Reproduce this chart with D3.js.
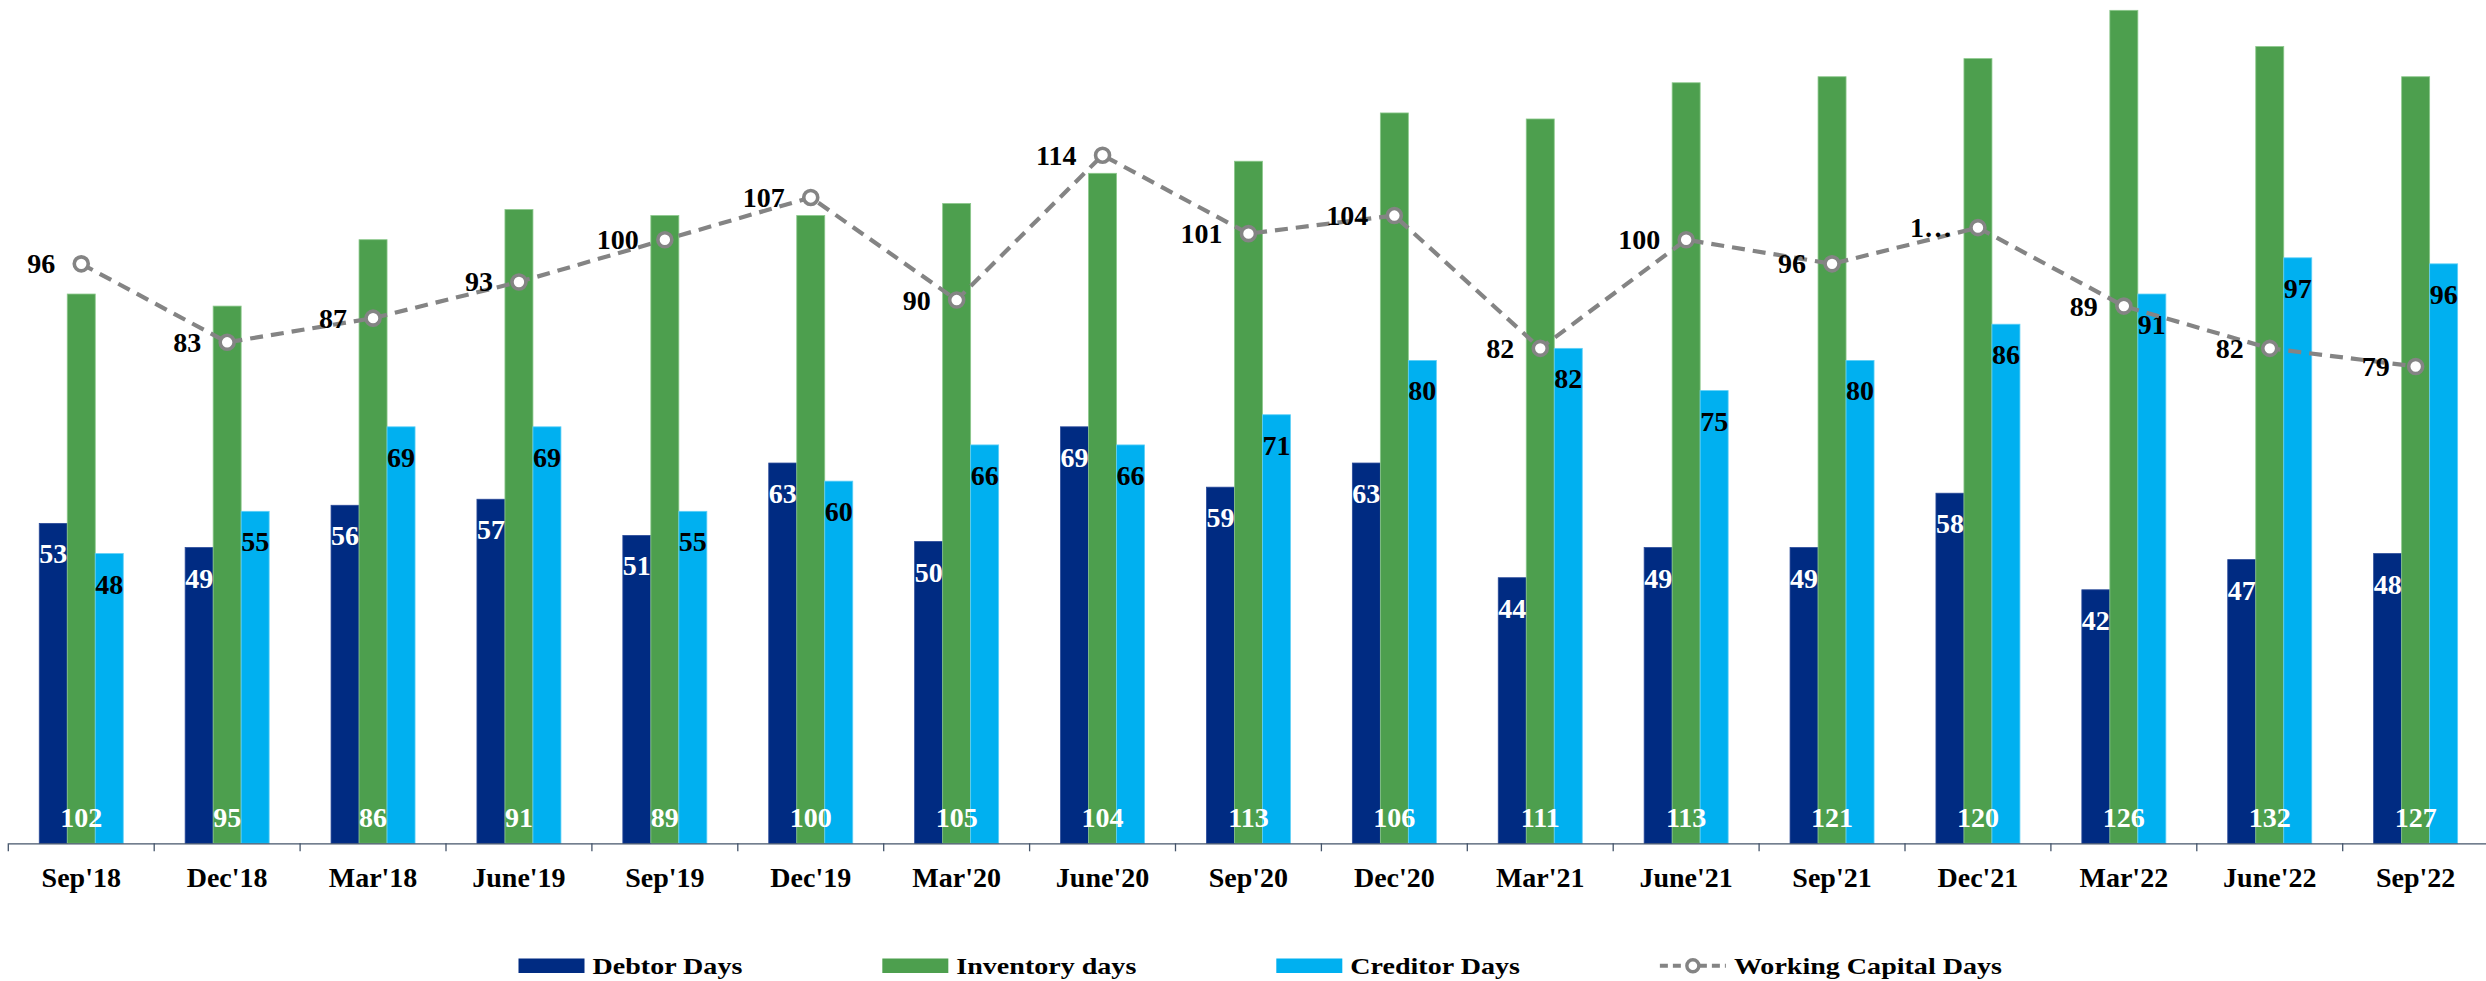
<!DOCTYPE html>
<html>
<head>
<meta charset="utf-8">
<script src="https://cdn.jsdelivr.net/npm/d3@7"></script>
<style>
  html, body { margin: 0; padding: 0; background: #ffffff; }
  svg { display: block; }
  text { font-family: "Liberation Serif", "DejaVu Serif", serif; font-weight: bold; }
</style>
</head>
<body>
<script>
// ---------- data ----------
const categories = ["Sep'18","Dec'18","Mar'18","June'19","Sep'19","Dec'19","Mar'20","June'20","Sep'20","Dec'20","Mar'21","June'21","Sep'21","Dec'21","Mar'22","June'22","Sep'22"];
const debtorDays = [53,49,56,57,51,63,50,69,59,63,44,49,49,58,42,47,48];
// inventory bar heights as drawn in the picture
const inventoryDays = [91,89,100,105,104,104,106,111,113,121,120,126,127,130,138,132,127];
// inventory labels as printed at the base of the green bars
const inventoryLabels = ["102","95","86","91","89","100","105","104","113","106","111","113","121","120","126","132","127"];
const creditorDays = [48,55,69,69,55,60,66,66,71,80,82,75,80,86,91,97,96];
const workingCapitalDays = [96,83,87,93,100,107,90,114,101,104,82,100,96,102,89,82,79];
const workingCapitalLabels = ["96","83","87","93","100","107","90","114","101","104","82","100","96","1…","89","82","79"];
const seriesNames = ["Debtor Days","Inventory days","Creditor Days","Working Capital Days"];
const seriesColors = ["#002B82","#4D9F4E","#00B0F0","#848484"];

// ---------- layout ----------
const W = 2486, H = 981;
const plotLeft = 8.3, bandW = 145.9;
const baseY = 843.3;
const barW = 28;

const svg = d3.select("body").append("svg").attr("width", W).attr("height", H);
svg.append("rect").attr("width", W).attr("height", H).attr("fill", "#fff");

const x = d3.scaleBand().domain(categories)
  .range([plotLeft, plotLeft + bandW * categories.length]).padding(0);
const y = d3.scaleLinear().domain([0, 140]).range([baseY, baseY - 140 * 6.036]);

const cx = c => x(c) + x.bandwidth() / 2;

// bars
const barSeries = [
  {name: seriesNames[0], values: debtorDays, color: seriesColors[0], stroke: "#2a4a99", off: -1.5},
  {name: seriesNames[1], values: inventoryDays, color: seriesColors[1], stroke: "#8cc88c", off: -0.5},
  {name: seriesNames[2], values: creditorDays, color: seriesColors[2], stroke: "#5fd0f7", off: 0.5}
];
const gBars = svg.append("g");
barSeries.forEach(s => {
  gBars.append("g").selectAll("rect").data(categories).join("rect")
    .attr("x", (c) => cx(c) + s.off * barW)
    .attr("width", barW)
    .attr("y", (c, i) => y(s.values[i]))
    .attr("height", (c, i) => baseY - y(s.values[i]))
    .attr("fill", s.color)
    .attr("stroke", s.stroke).attr("stroke-width", 0.8);
});

// axis
const axis = d3.axisBottom(x).tickSize(0).tickFormat("");
const gAxis = svg.append("g").attr("transform", `translate(0,${baseY})`).call(axis);
gAxis.select(".domain").attr("stroke", "#44546A").attr("stroke-width", 1.3);
// boundary ticks
const boundaries = d3.range(categories.length + 1).map(i => plotLeft + i * bandW);
gAxis.append("g").selectAll("line").data(boundaries).join("line")
  .attr("x1", d => d).attr("x2", d => d).attr("y1", 0).attr("y2", 8)
  .attr("stroke", "#44546A").attr("stroke-width", 1.3);
gAxis.append("g").selectAll("text").data(categories).join("text")
  .attr("x", d => cx(d)).attr("y", 43.4)
  .attr("text-anchor", "middle").attr("font-size", 28).attr("fill", "#000")
  .text(d => d);

// bar labels
const gLab = svg.append("g").attr("font-size", 28);
gLab.selectAll(".dl").data(categories).join("text").attr("class", "dl")
  .attr("x", c => cx(c) - barW).attr("y", (c, i) => y(debtorDays[i]) + 40)
  .attr("text-anchor", "middle").attr("fill", "#fff")
  .text((c, i) => debtorDays[i]);
gLab.selectAll(".cl").data(categories).join("text").attr("class", "cl")
  .attr("x", c => cx(c) + barW).attr("y", (c, i) => y(creditorDays[i]) + 40)
  .attr("text-anchor", "middle").attr("fill", "#000")
  .text((c, i) => creditorDays[i]);
gLab.selectAll(".il").data(categories).join("text").attr("class", "il")
  .attr("x", c => cx(c)).attr("y", y(0) - 16.6)
  .attr("text-anchor", "middle").attr("fill", "#fff")
  .text((c, i) => inventoryLabels[i]);

// working capital line
const line = d3.line().x((c) => cx(c)).y((c, i) => y(workingCapitalDays[i]));
svg.append("path").datum(categories)
  .attr("d", line).attr("fill", "none")
  .attr("stroke", seriesColors[3]).attr("stroke-width", 4.2)
  .attr("stroke-dasharray", "13,8");
svg.append("g").selectAll("circle").data(categories).join("circle")
  .attr("cx", c => cx(c)).attr("cy", (c, i) => y(workingCapitalDays[i]))
  .attr("r", 7).attr("fill", "#fff")
  .attr("stroke", seriesColors[3]).attr("stroke-width", 3.6);
svg.append("g").attr("font-size", 28).selectAll("text").data(categories).join("text")
  .attr("x", c => cx(c) - 26).attr("y", (c, i) => y(workingCapitalDays[i]) + 9.5)
  .attr("text-anchor", "end").attr("fill", "#000")
  .text((c, i) => workingCapitalLabels[i]);

// legend
const legend = svg.append("g");
const legY = 958.5, swW = 66, swH = 14.5, textGap = 8, itemGap = 140, legScale = 1.22;
let lx = 518.5;
seriesNames.forEach((name, i) => {
  const g = legend.append("g");
  if (i < 3) {
    g.append("rect").attr("x", lx).attr("y", legY).attr("width", swW).attr("height", swH)
      .attr("fill", seriesColors[i]);
  } else {
    g.append("line").attr("x1", lx).attr("x2", lx + swW).attr("y1", legY + swH / 2).attr("y2", legY + swH / 2)
      .attr("stroke", seriesColors[3]).attr("stroke-width", 4.2).attr("stroke-dasharray", "8,5");
    g.append("circle").attr("cx", lx + swW / 2).attr("cy", legY + swH / 2).attr("r", 6)
      .attr("fill", "#fff").attr("stroke", seriesColors[3]).attr("stroke-width", 3.4);
  }
  const tx = lx + swW + textGap;
  const t = g.append("text").attr("x", 0).attr("y", 0)
    .attr("transform", `translate(${tx},${legY + 15}) scale(${legScale},1)`)
    .attr("font-size", 23).attr("fill", "#000").text(name);
  const tw = t.node().getComputedTextLength() * legScale;
  lx = tx + tw + itemGap;
});
</script>
</body>
</html>
